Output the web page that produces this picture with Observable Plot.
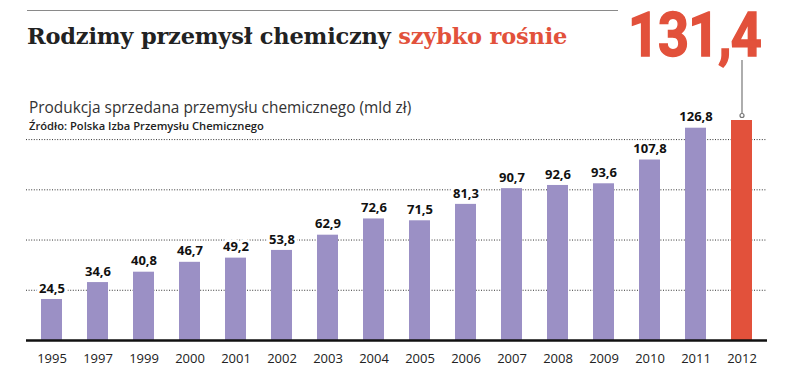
<!DOCTYPE html>
<html>
<head>
<meta charset="utf-8">
<script src="https://cdn.jsdelivr.net/npm/d3@7"></script>
<script src="https://cdn.jsdelivr.net/npm/@observablehq/plot@0.6"></script>
<style>
  body { margin: 0; background: #fff; }
  #wrap { position: relative; width: 788px; height: 388px; overflow: hidden; font-family: "Open Sans", sans-serif; }
  #topline { position: absolute; left: 27px; top: 10px; width: 591px; height: 0; border-top: 1.5px solid #8a8a8a; }
  #title { position: absolute; left: 27px; top: 25px; font-family: "DejaVu Serif", serif; font-weight: bold; font-size: 22.5px; line-height: 1; color: #222; white-space: nowrap; letter-spacing: -0.2px; }
  #title span { color: #e2513b; }
  #big { position: absolute; left: 628px; top: 5px; font-family: Roboto, sans-serif; font-weight: bold; font-size: 61px; line-height: 1; color: #e2513b; white-space: nowrap; transform: scaleX(0.886); transform-origin: left top; letter-spacing: -1px; -webkit-text-stroke: 1.5px #e2513b; }
  #sub { position: absolute; left: 29px; top: 100px; font-size: 15.4px; line-height: 1; color: #333; white-space: nowrap; }
  #src { position: absolute; left: 29px; top: 120px; font-size: 11.2px; line-height: 1; font-weight: 600; color: #222; white-space: nowrap; }
  #chart { position: absolute; left: 0; top: 60px; }
</style>
</head>
<body>
<div id="wrap">
  <div id="chart"></div>
  <div id="topline"></div>
  <div id="title">Rodzimy przemysł chemiczny <span>szybko rośnie</span></div>
  <div id="big"></div>
  <div id="sub">Produkcja sprzedana przemysłu chemicznego (mld zł)</div>
  <div id="src">Źródło: Polska Izba Przemysłu Chemicznego</div>
</div>
<script>
const years = ["1995","1997","1999","2000","2001","2002","2003","2004","2005","2006","2007","2008","2009","2010","2011","2012"];
const values = [24.5, 34.6, 40.8, 46.7, 49.2, 53.8, 62.9, 72.6, 71.5, 81.3, 90.7, 92.6, 93.6, 107.8, 126.8, 131.4];
const gridValues = [30, 60, 90, 120];
const highlightYear = "2012";

const purple = "#9b90c5";
const red = "#e2513b";
const fmt = v => d3.format(".1f")(v).replace(".", ",");

const data = years.map((year, i) => ({year, value: values[i]}));
const regular = data.filter(d => d.year !== highlightYear);
const highlight = data.filter(d => d.year === highlightYear);

document.getElementById("big").textContent = fmt(highlight[0].value);

const chart = Plot.plot({
  width: 788,
  height: 328,
  marginLeft: 26,
  marginRight: 21,
  marginTop: 60,
  marginBottom: 48,
  style: {fontFamily: "Open Sans, sans-serif", fontSize: "13px", color: "#222", background: "transparent", overflow: "visible"},
  x: {type: "band", domain: years, paddingInner: 0.547, paddingOuter: 0.2735, label: null, tickSize: 0, tickPadding: 13},
  y: {domain: [0, d3.max(values)], axis: null},
  marks: [
    Plot.ruleY(gridValues, {stroke: "#333", strokeWidth: 1, strokeDasharray: "1,1.6"}),
    Plot.barY(data, {x: "year", y: "value", fill: d => d.year === highlightYear ? red : purple}),
    Plot.ruleY([0], {stroke: "#111", strokeWidth: 2.5}),
    Plot.text(regular, {x: "year", y: "value", text: d => fmt(d.value), dy: -11, fontSize: 13, fontWeight: "bold", fill: "#111", stroke: "white", strokeWidth: 6}),
    Plot.ruleX(highlight, {x: "year", y1: "value", y2: "value", dy: -5, insetTop: -55, insetBottom: 0, stroke: "#777", strokeWidth: 1.2}),
    Plot.dot(highlight, {x: "year", y: "value", dy: -5, r: 2, fill: "white", stroke: "#777", strokeWidth: 1.2})
  ]
});
document.getElementById("chart").appendChild(chart);
</script>
</body>
</html>
